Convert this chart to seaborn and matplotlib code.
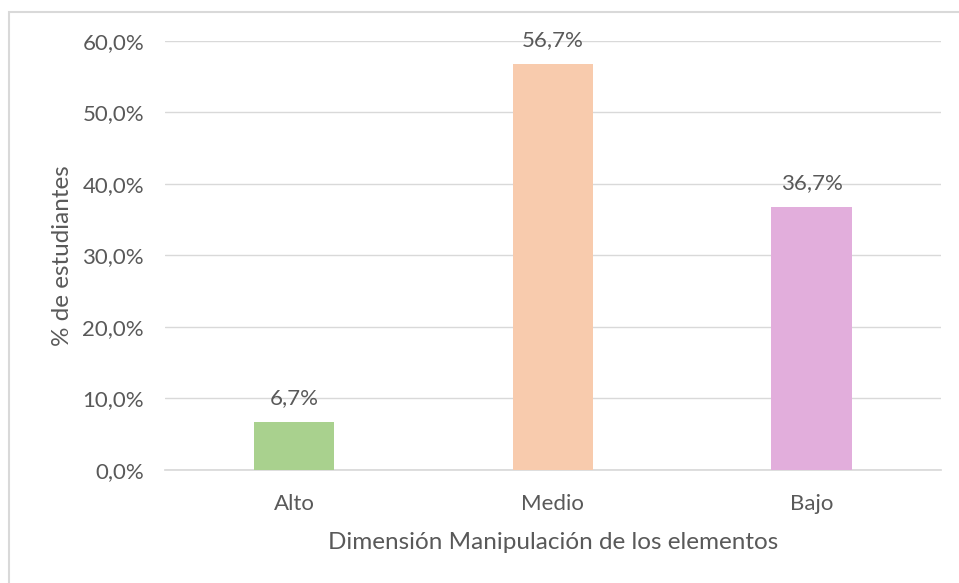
import pandas as pd
import matplotlib.pyplot as plt
import matplotlib.patches as mpatches
import seaborn as sns
from matplotlib.ticker import FuncFormatter

sns.set_theme(style="white")
plt.rcParams['font.family'] = ['Lato', 'DejaVu Sans']

categorias = ['Alto', 'Medio', 'Bajo']
porcentajes = [6.7, 56.7, 36.7]
colores = ['#A9D18E', '#F8CBAD', '#E2AEDC']

df = pd.DataFrame({'Nivel': categorias, 'Porcentaje': porcentajes})
gris = '#595959'

fig = plt.figure(figsize=(9.59, 5.83), dpi=100)
ax = fig.add_axes([0.172, 0.194, 0.809, 0.736])

sns.barplot(data=df, x='Nivel', y='Porcentaje', hue='Nivel', palette=colores,
            width=0.31, saturation=1, linewidth=0, legend=False, ax=ax, zorder=3)

ax.set_ylim(0, 60)
ax.set_yticks([0, 10, 20, 30, 40, 50, 60])
ax.yaxis.set_major_formatter(FuncFormatter(lambda v, p: f'{v:.1f}%'.replace('.', ',')))
ax.grid(axis='y', color='#D9D9D9', linewidth=1, zorder=0)
for s in ['top', 'right', 'left']:
    ax.spines[s].set_visible(False)
ax.spines['bottom'].set_color('#D9D9D9')
ax.tick_params(axis='both', length=0, labelsize=16, labelcolor=gris)
ax.tick_params(axis='x', pad=17)
ax.tick_params(axis='y', pad=15)

for c in ax.containers:
    ax.bar_label(c, labels=[f'{v:.1f}%'.replace('.', ',') for v in c.datavalues],
                 padding=10, fontsize=16, color=gris)

ax.set_xlabel('Dimensión Manipulación de los elementos', fontsize=17.5, color=gris, labelpad=13)
ax.set_ylabel('% de estudiantes', fontsize=17.5, color=gris, labelpad=7)

# chart border
fig.patches.append(mpatches.Rectangle((9 / 959, -0.1), 1.1, 1 - 12 / 583 + 0.1,
                                      transform=fig.transFigure, fill=False,
                                      edgecolor='#D9D9D9', linewidth=1.5))

plt.savefig('out.png', dpi=100)
